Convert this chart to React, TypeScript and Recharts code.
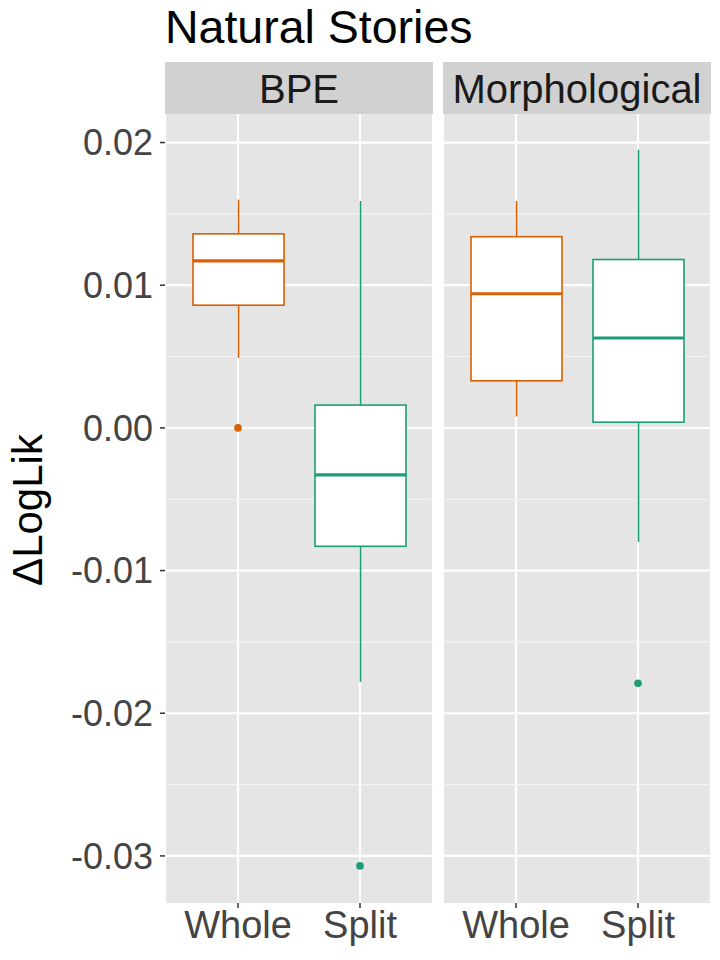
import { ComposedChart, Bar, Scatter, XAxis, YAxis, CartesianGrid } from 'recharts';

const FONT = '"Liberation Sans", Arial, Helvetica, sans-serif';

// categories on the x axis of each facet
const categories = ['Whole', 'Split'];

// BPE facet (Whole, Split)
const bpeWhiskerLow = [0.0049, -0.0178];
const bpeQ1 = [0.0086, -0.0083];
const bpeMedian = [0.0117, -0.0033];
const bpeQ3 = [0.0136, 0.0016];
const bpeWhiskerHigh = [0.016, 0.0159];
const bpeOutliers: (number | null)[] = [0.0, -0.0307];

// Morphological facet (Whole, Split)
const morphWhiskerLow = [0.0008, -0.008];
const morphQ1 = [0.0033, 0.0004];
const morphMedian = [0.0094, 0.0063];
const morphQ3 = [0.0134, 0.0118];
const morphWhiskerHigh = [0.0159, 0.0195];
const morphOutliers: (number | null)[] = [null, -0.0179];

const yDomain: [number, number] = [-0.0333, 0.022];
const majorTicks = [-0.03, -0.02, -0.01, 0, 0.01, 0.02];
const minorTicks = [-0.025, -0.015, -0.005, 0.005, 0.015];

const groupColors: Record<string, string> = { Whole: '#D95F02', Split: '#1B9E77' };

function buildRows(lo: number[], q1: number[], med: number[], q3: number[], hi: number[], out: (number | null)[]) {
  return categories.map((cat, i) => ({
    cat,
    range: [lo[i], hi[i]],
    lo: lo[i],
    q1: q1[i],
    med: med[i],
    q3: q3[i],
    hi: hi[i],
    out: out[i],
  }));
}

const bpeRows = buildRows(bpeWhiskerLow, bpeQ1, bpeMedian, bpeQ3, bpeWhiskerHigh, bpeOutliers);
const morphRows = buildRows(morphWhiskerLow, morphQ1, morphMedian, morphQ3, morphWhiskerHigh, morphOutliers);

// box drawn inside the whisker-range bar; inner values mapped linearly along the bar
function BoxShape(props: any) {
  const { x, y, width, height, payload } = props;
  const color = groupColors[payload.cat];
  const top = Math.min(y, y + height);
  const bottom = Math.max(y, y + height);
  const px = (v: number) => bottom - ((v - payload.lo) / (payload.hi - payload.lo)) * (bottom - top);
  const cx = x + width / 2;
  const yq1 = px(payload.q1);
  const yq3 = px(payload.q3);
  const ymed = px(payload.med);
  return (
    <g>
      <line x1={cx} x2={cx} y1={top} y2={yq3} stroke={color} strokeWidth={1.6} />
      <line x1={cx} x2={cx} y1={yq1} y2={bottom} stroke={color} strokeWidth={1.6} />
      <rect x={x} y={yq3} width={width} height={yq1 - yq3} fill="#FFFFFF" stroke={color} strokeWidth={1.6} />
      <line x1={x} x2={x + width} y1={ymed} y2={ymed} stroke={color} strokeWidth={3.2} />
    </g>
  );
}

function OutlierDot(props: any) {
  const { cx, cy, payload } = props;
  if (payload == null || payload.out == null || cx == null || cy == null) return <g />;
  return <circle cx={cx} cy={cy} r={3.8} fill={groupColors[payload.cat]} />;
}

const yTickStyle = { fontSize: 36, fill: '#444444', fontFamily: FONT };
const xTickStyle = { fontSize: 38, fill: '#444444', fontFamily: FONT };

function Facet({ rows, showY, width }: { rows: any[]; showY: boolean; width: number }) {
  return (
    <ComposedChart width={width} height={846} data={rows} margin={{ top: 0, right: 0, bottom: 0, left: 0 }}>
      <CartesianGrid
        horizontalValues={majorTicks}
        stroke="#FFFFFF"
        strokeWidth={2.2}
        fill="#E5E5E5"
        fillOpacity={1}
      />
      <CartesianGrid horizontalValues={minorTicks} vertical={false} stroke="#F4F4F4" strokeWidth={1.1} fill="none" />
      <XAxis
        dataKey="cat"
        allowDuplicatedCategory={false}
        padding={{ left: 12, right: 12 }}
        height={57}
        axisLine={false}
        tickLine={{ stroke: '#333333', strokeWidth: 1.5 }}
        tickSize={5}
        tickMargin={3}
        tick={xTickStyle}
      />
      <YAxis
        hide={!showY}
        width={showY ? 165 : 0}
        domain={yDomain}
        ticks={majorTicks}
        allowDataOverflow
        axisLine={false}
        tickLine={{ stroke: '#333333', strokeWidth: 1.5 }}
        tickSize={5}
        tickMargin={7}
        tick={yTickStyle}
        tickFormatter={(v: number) => v.toFixed(2)}
      />
      <Bar dataKey="range" barSize={91} shape={BoxShape} isAnimationActive={false} />
      <Scatter dataKey="out" shape={OutlierDot} isAnimationActive={false} />
    </ComposedChart>
  );
}

export default function App() {
  return (
    <div style={{ position: 'absolute', left: 0, top: 0, width: 720, height: 960, background: '#FFFFFF', fontFamily: FONT }}>
      <div style={{ position: 'absolute', left: 165, top: 62, width: 268, height: 52, background: '#D1D1D1' }} />
      <div style={{ position: 'absolute', left: 443, top: 62, width: 268, height: 52, background: '#D1D1D1' }} />
      <div style={{ position: 'absolute', left: 0, top: 114 }}>
        <Facet rows={bpeRows} showY width={433} />
      </div>
      <div style={{ position: 'absolute', left: 443, top: 114 }}>
        <Facet rows={morphRows} showY={false} width={268} />
      </div>
      <svg width={720} height={960} style={{ position: 'absolute', left: 0, top: 0, pointerEvents: 'none' }}>
        <text x={165} y={43} fontSize={46.5} fill="#000000" fontFamily={FONT}>
          Natural Stories
        </text>
        <text x={299} y={103} fontSize={40} fill="#1A1A1A" textAnchor="middle" fontFamily={FONT}>
          BPE
        </text>
        <text x={577} y={103} fontSize={40} fill="#1A1A1A" textAnchor="middle" fontFamily={FONT}>
          Morphological
        </text>
        <text transform="translate(42,510) rotate(-90)" fontSize={42} fill="#000000" textAnchor="middle" fontFamily={FONT}>
          ΔLogLik
        </text>
      </svg>
    </div>
  );
}
